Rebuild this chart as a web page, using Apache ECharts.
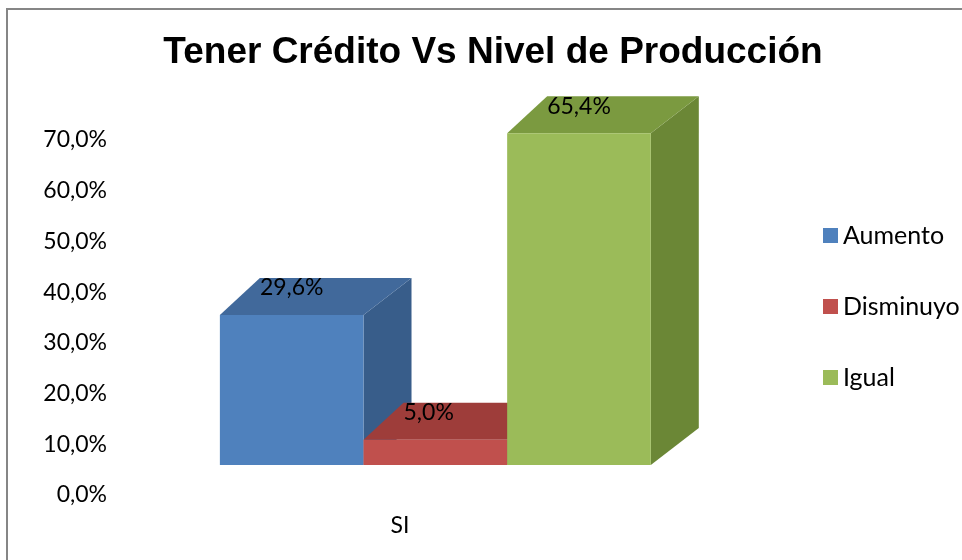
<!DOCTYPE html>
<html>
<head>
<meta charset="utf-8">
<script src="https://cdn.jsdelivr.net/npm/echarts@6/dist/echarts.min.js"></script>
<style>
  html, body { margin: 0; padding: 0; background: #fff; }
  #chart { width: 962px; height: 560px; }
</style>
</head>
<body>
<div id="chart"></div>
<script>
// datos
var categories = ['SI'];
var seriesNames = ['Aumento', 'Disminuyo', 'Igual'];
var aumento = [0.296];
var disminuyo = [0.050];
var igual = [0.654];
var valueLabels = ['29,6%', '5,0%', '65,4%'];

// colores: frente, tapa, lado
var colors = [
  ['#4F81BD', '#41699B', '#385D8A'],
  ['#C0504D', '#9E3D3A', '#8C3532'],
  ['#9BBB59', '#7B9A40', '#6B8736']
];

var LIFT = 30;   // desplazamiento del frente respecto al eje
var DXL = 40, DXR = 48, DY = 37;  // profundidad 3D

function bar3d(idx) {
  return function (params, api) {
    var band = api.size([1, 0])[0];
    var c = api.coord([api.value(0), api.value(1)]);
    var base = api.coord([api.value(0), 0]);
    var w = band * 0.252;
    var x0 = c[0] - band * 0.316 + idx * w;
    var x1 = x0 + w;
    var yT = c[1] - LIFT;
    var yB = base[1] - LIFT;
    var col = colors[idx];
    return {
      type: 'group',
      children: [
        {
          type: 'polygon',
          shape: { points: [[x1, yT], [x1 + DXR, yT - DY], [x1 + DXR, yB - DY], [x1, yB]] },
          style: { fill: col[2] }
        },
        {
          type: 'polygon',
          shape: { points: [[x0, yT], [x1, yT], [x1 + DXR, yT - DY], [x0 + DXL, yT - DY]] },
          style: { fill: col[1] }
        },
        {
          type: 'rect',
          shape: { x: x0, y: yT, width: w, height: yB - yT },
          style: { fill: col[0] }
        },
        {
          type: 'text',
          z2: 10,
          style: {
            x: x0 + DXL,
            y: yT - DY + 10,
            text: valueLabels[idx],
            fill: '#000',
            font: '23px Lato',
            textAlign: 'left',
            textVerticalAlign: 'middle'
          }
        }
      ]
    };
  };
}

function toData(arr) {
  return arr.map(function (v, i) { return [i, v]; });
}

var allValues = [aumento, disminuyo, igual];
var series = seriesNames.map(function (name, i) {
  return {
    name: name,
    type: 'custom',
    renderItem: bar3d(i),
    itemStyle: { color: colors[i][0] },
    encode: { x: 0, y: 1 },
    data: toData(allValues[i])
  };
});

var chart = echarts.init(document.getElementById('chart'));
var option = {
  animation: false,
  backgroundColor: '#fff',
  graphic: [
    {
      type: 'rect',
      shape: { x: 7, y: 9, width: 1000, height: 600 },
      style: { fill: 'none', stroke: '#868686', lineWidth: 2 },
      silent: true
    },
    {
      type: 'text',
      x: 493,
      y: 71,
      style: {
        text: 'Tener Crédito Vs Nivel de Producción',
        font: 'bold 37px "Liberation Sans", Arial, sans-serif',
        fill: '#000',
        textAlign: 'center',
        textVerticalAlign: 'bottom'
      }
    }
  ],
  legend: {
    orient: 'vertical',
    left: 823,
    top: 223,
    padding: 0,
    itemWidth: 15,
    itemHeight: 15,
    itemGap: 46,
    icon: 'rect',
    data: seriesNames,
    textStyle: { fontFamily: 'Lato', fontSize: 25, color: '#000', lineHeight: 25 }
  },
  grid: { left: 115, right: 277, top: 140, bottom: 65 },
  xAxis: {
    type: 'category',
    data: categories,
    axisLine: { show: false },
    axisTick: { show: false },
    axisLabel: { fontFamily: 'Lato', fontSize: 23, color: '#000', margin: 19 }
  },
  yAxis: {
    type: 'value',
    min: 0,
    max: 0.7,
    interval: 0.1,
    axisLine: { show: false },
    axisTick: { show: false },
    splitLine: { show: false },
    axisLabel: {
      fontFamily: 'Lato',
      fontSize: 23,
      color: '#000',
      margin: 8,
      formatter: function (v) { return (v * 100).toFixed(1).replace('.', ',') + '%'; }
    }
  },
  series: series
};
chart.setOption(option);
</script>
</body>
</html>
